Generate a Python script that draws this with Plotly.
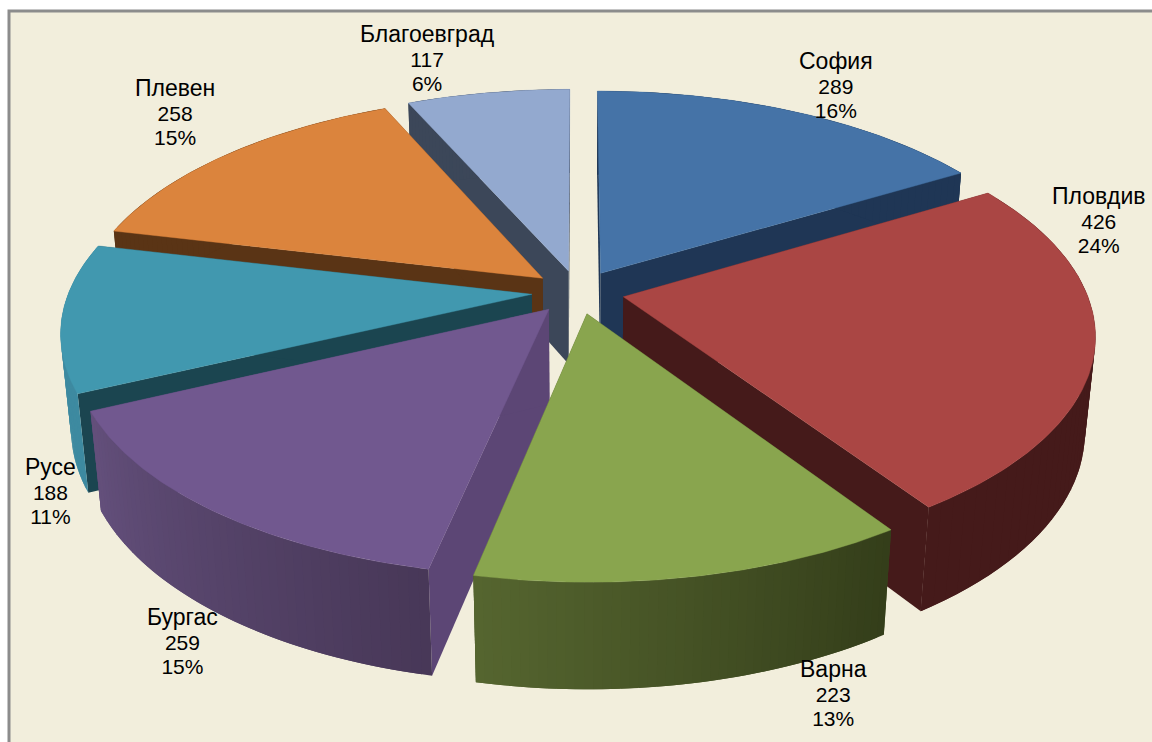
import math
import numpy as np
import plotly.graph_objects as go

names = ["София", "Пловдив", "Варна", "Бургас", "Русе", "Плевен", "Благоевград"]
values = [289, 426, 223, 259, 188, 258, 117]
percents = [16, 24, 13, 15, 11, 15, 6]
top_colors = ["#4573A7", "#AA4644", "#89A54E", "#71588F", "#4198AF", "#DB843D", "#93A9CF"]
cut_colors = ["#1F3655", "#451A1A", "#3E4A20", "#5C4675", "#1B4550", "#5A3415", "#3C4759"]
arc_first = ["#1F3655", "#451A1A", "#343E1A", "#483858", "#3E8AA0", "#5A3415", "#3C4759"]
arc_last = ["#1F3655", "#451A1A", "#566630", "#64507C", "#3E8AA0", "#5A3415", "#3C4759"]
draw_order = [6, 0, 5, 4, 1, 3, 2]
label_x = [836, 1098, 833, 182, 50, 175, 427]
label_y = [85, 220, 693, 641, 491, 112, 58]

PULL = 0.10
DEPTH = 0.235
ELEV = math.radians(28)
DIST = 5.46
SCALE = 463
U0, V0 = 578, 292
ARC_STEPS = 90
BANDS = 48


def project(x, y, z):
    x, y, z = np.asarray(x, float), np.asarray(y, float), np.asarray(z, float)
    yc = y * math.sin(ELEV) + z * math.cos(ELEV)
    zc = 1 + (y * math.cos(ELEV) - z * math.sin(ELEV)) / DIST
    return U0 + SCALE * x / zc, V0 - SCALE * yc / zc


def rgb(h):
    return np.array([int(h[i:i + 2], 16) for i in (1, 3, 5)], float)


def mix(a, b, t):
    return "rgb(%d,%d,%d)" % tuple(rgb(a) * (1 - t) + rgb(b) * t)


fig = go.Figure()


def poly(x, y, z, color, width=0.0):
    u, v = project(x, y, z)
    fig.add_trace(go.Scatter(
        x=np.append(u, u[0]), y=np.append(v, v[0]), mode="lines", fill="toself",
        fillcolor=color, line=dict(color=color, width=width),
        hoverinfo="skip", showlegend=False))


total = sum(values)
bounds = np.concatenate([[0], np.cumsum(values)]) / total * 2 * math.pi
for i in draw_order:
    a0, a1 = bounds[i], bounds[i + 1]
    mid = (a0 + a1) / 2
    ox, oy = PULL * math.sin(mid), PULL * math.cos(mid)
    # cut faces
    for a in (a0, a1):
        ex, ey = ox + math.sin(a), oy + math.cos(a)
        poly([ox, ex, ex, ox], [oy, ey, ey, oy], [0, 0, -DEPTH, -DEPTH], cut_colors[i])
    # outer wall: each shaded band runs on under the next one, so no seams show
    edges = np.linspace(a0, a1, BANDS + 1)
    for b in range(BANDS):
        th = np.linspace(edges[b], edges[min(b + 2, BANDS)], 5)
        ex, ey = ox + np.sin(th), oy + np.cos(th)
        k = len(th)
        poly(np.concatenate([ex, ex[::-1]]), np.concatenate([ey, ey[::-1]]),
             np.concatenate([np.zeros(k), -DEPTH * np.ones(k)]),
             mix(arc_first[i], arc_last[i], (b + 0.5) / BANDS))
    # top face
    th = np.linspace(a0, a1, ARC_STEPS + 1)
    poly(np.concatenate([[ox], ox + np.sin(th)]), np.concatenate([[oy], oy + np.cos(th)]),
         np.zeros(ARC_STEPS + 2), top_colors[i], 0.4)

annotations = [
    dict(text=(f'<span style="font-size:23px">{n}</span><br>'
               f'<span style="font-size:21px">{v}</span><br>'
               f'<span style="font-size:21px">{p}%</span>'),
         x=lx, y=ly, xref="x", yref="y", showarrow=False, align="center",
         xanchor="center", yanchor="middle",
         font=dict(family="Liberation Sans", size=19, color="#000000"))
    for n, v, p, lx, ly in zip(names, values, percents, label_x, label_y)
]

fig.update_layout(
    width=1152, height=742, autosize=False,
    margin=dict(l=0, r=0, t=0, b=0),
    paper_bgcolor="#FFFFFF", plot_bgcolor="#FFFFFF", showlegend=False,
    annotations=annotations,
    xaxis=dict(visible=False, range=[0, 1152], fixedrange=True),
    yaxis=dict(visible=False, range=[742, 0], fixedrange=True),
    shapes=[dict(type="rect", xref="x", yref="y", layer="below",
                 x0=9, x1=1170, y0=11, y1=760,
                 fillcolor="#F2EEDC", line=dict(color="#8C8C8C", width=3))],
)
fig.write_html("out.html", default_width="1152px", default_height="742px",
               config=dict(displayModeBar=False),
               post_script="document.body.style.margin='0';document.documentElement.style.overflow='hidden';")
